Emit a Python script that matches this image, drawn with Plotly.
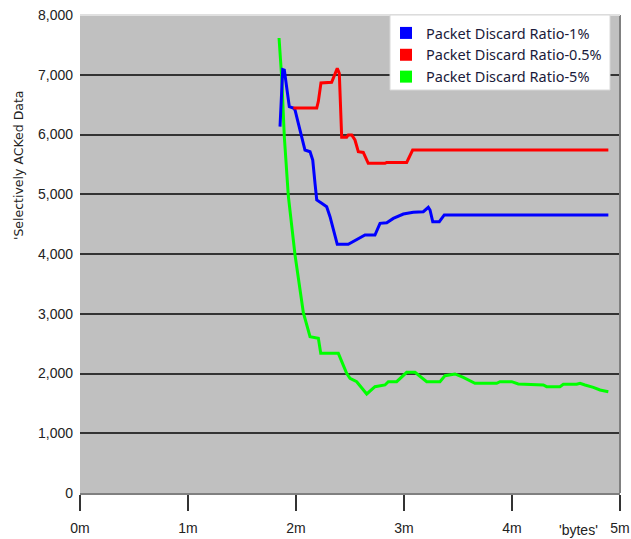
import plotly.graph_objects as go

# Data (x in millions of bytes, y in selectively ACKed data)
blue_x = [1.852, 1.858, 1.877, 1.892, 1.914, 1.938, 1.975, 1.991, 2.021, 2.053, 2.083, 2.130, 2.155,
          2.176, 2.192, 2.238, 2.284, 2.315, 2.345, 2.382, 2.484, 2.546, 2.639, 2.731, 2.778, 2.840,
          2.901, 2.994, 3.086, 3.179, 3.225, 3.241, 3.266, 3.327, 3.373, 4.892]
blue_y = [6131, 6443, 7088, 7079, 6774, 6466, 6443, 6410, 6190, 5963, 5740, 5712, 5573,
          5183, 4904, 4848, 4792, 4625, 4402, 4162, 4162, 4230, 4318, 4318, 4513, 4523,
          4596, 4669, 4697, 4708, 4781, 4736, 4541, 4541, 4653, 4653]

red_x = [1.975, 2.192, 2.207, 2.231, 2.330, 2.352, 2.382, 2.401, 2.407, 2.423, 2.469, 2.484, 2.516,
         2.546, 2.577, 2.623, 2.669, 2.824, 2.840, 3.025, 3.080, 4.892]
red_y = [6443, 6443, 6555, 6862, 6873, 6973, 7107, 7023, 6717, 5953, 5953, 5992, 5992,
         5908, 5712, 5700, 5517, 5517, 5533, 5533, 5740, 5740]

green_x = [1.843, 1.868, 1.892, 1.929, 1.991, 2.068, 2.130, 2.207, 2.229, 2.392, 2.469, 2.500, 2.562,
           2.655, 2.731, 2.824, 2.855, 2.932, 3.025, 3.102, 3.210, 3.333, 3.380, 3.472, 3.549, 3.657,
           3.858, 3.889, 3.997, 4.058, 4.290, 4.321, 4.444, 4.475, 4.599, 4.630, 4.676, 4.753, 4.815, 4.892]
green_y = [7615, 6946, 5958, 4971, 3983, 3017, 2616, 2589, 2338, 2338, 2003, 1920, 1863,
           1657, 1779, 1808, 1863, 1863, 2020, 2020, 1863, 1863, 1964, 1992, 1936, 1836,
           1836, 1863, 1863, 1824, 1808, 1779, 1779, 1819, 1819, 1836, 1808, 1769, 1724, 1696]

series_names = ["Packet Discard Ratio-1%", "Packet Discard Ratio-0.5%", "Packet Discard Ratio-5%"]
series_colors = ["#0000FF", "#FF0000", "#00FF00"]

x_tickvals = [0, 1, 2, 3, 4, 5]
x_ticktext = ["0m", "1m", "2m", "3m", "4m", "5m"]
y_tickvals = [0, 1000, 2000, 3000, 4000, 5000, 6000, 7000, 8000]
y_ticktext = ["0", "1,000", "2,000", "3,000", "4,000", "5,000", "6,000", "7,000", "8,000"]

fig = go.Figure()

for xs, ys, name, col in [(green_x, green_y, series_names[2], series_colors[2]),
                          (blue_x, blue_y, series_names[0], series_colors[0]),
                          (red_x, red_y, series_names[1], series_colors[1])]:
    fig.add_trace(go.Scatter(x=xs, y=ys, mode="lines", name=name, showlegend=False,
                             line=dict(color=col, width=3), hoverinfo="skip"))

# legend-only square markers
for name, col in zip(series_names, series_colors):
    fig.add_trace(go.Scatter(x=[None], y=[None], mode="markers", name=name,
                             marker=dict(symbol="square", size=15, color=col)))

W, H = 631, 539
L, R, T, B = 80, 11, 15, 46
pw, ph = W - L - R, H - T - B

def px_x(p):
    return (p - L) / pw

def px_y(p):
    return (H - B - p) / ph

fig.update_layout(
    width=W, height=H,
    margin=dict(l=L, r=R, t=T, b=B, pad=0, autoexpand=False),
    paper_bgcolor="white",
    plot_bgcolor="#C0C0C0",
    font=dict(family="Liberation Sans, Arial, sans-serif", size=14, color="#222222"),
    showlegend=True,
    legend=dict(x=px_x(386), y=px_y(17), xanchor="left", yanchor="top",
                bgcolor="rgba(0,0,0,0)", borderwidth=0,
                font=dict(family="Noto Sans, DejaVu Sans, sans-serif", size=14.5, color="#1a1a3a"),
                tracegroupgap=0, itemsizing="constant"),
    xaxis=dict(range=[0, 5], tickvals=x_tickvals, ticktext=x_ticktext, showgrid=False,
               zeroline=False, showline=True, linecolor="#808080", linewidth=2,
               ticks="outside", ticklen=16, tickwidth=2, tickcolor="#333333",
               ticklabelstandoff=5, automargin=False, tickfont=dict(size=14, color="#222222")),
    yaxis=dict(range=[0, 8000], tickvals=y_tickvals, ticktext=y_ticktext, showgrid=True,
               gridcolor="#333333", gridwidth=2, zeroline=False, showline=False,
               ticks="", ticklabelstandoff=6, automargin=False,
               tickfont=dict(size=14, color="#222222")),
    shapes=[
        dict(type="line", xref="paper", yref="paper", x0=1, x1=1, y0=0, y1=1,
             line=dict(color="#808080", width=2)),
        dict(type="line", xref="paper", yref="paper", x0=0, x1=1, y0=1, y1=1,
             line=dict(color="#E0E0E0", width=2)),
        dict(type="rect", xref="paper", yref="paper", x0=px_x(390), x1=px_x(610),
             y0=px_y(90), y1=px_y(15), fillcolor="white",
             line=dict(color="#D8D8D8", width=1), layer="above"),
    ],
    annotations=[
        dict(text="'Selectively ACKed Data", xref="paper", yref="paper", x=px_x(19), y=px_y(166),
             textangle=-90, showarrow=False, xanchor="center", yanchor="middle",
             font=dict(family="DejaVu Sans, sans-serif", size=12.5, color="#222222")),
        dict(text="'bytes'", xref="paper", yref="paper", x=px_x(578), y=px_y(530),
             showarrow=False, xanchor="center", yanchor="middle",
             font=dict(size=14, color="#222222")),
    ],
)

fig.write_html("out.html")
